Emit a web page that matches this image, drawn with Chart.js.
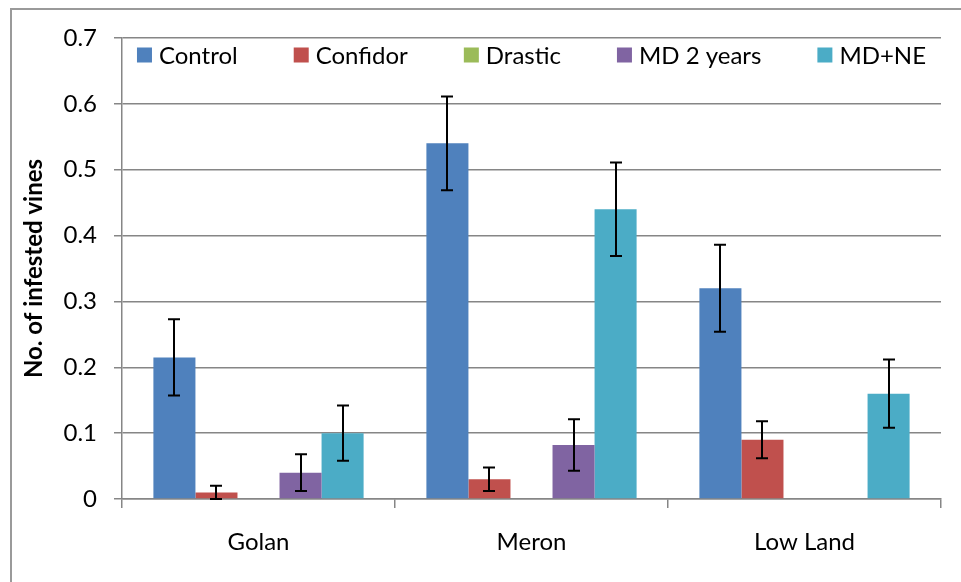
<!DOCTYPE html>
<html><head><meta charset="utf-8">
<script src="https://cdn.jsdelivr.net/npm/chart.js@4.4.0/dist/chart.umd.min.js"></script>
<style>html,body{margin:0;padding:0;background:#fff}#wrap{position:relative;width:961px;height:582px}</style>
</head><body><div id="wrap"><canvas id="c" width="961" height="582"></canvas></div>
<script>
// ---- data ----
const categories = ['Golan', 'Meron', 'Low Land'];
const seriesNames = ['Control', 'Confidor', 'Drastic', 'MD 2 years', 'MD+NE'];
const control     = [0.215, 0.54, 0.32];
const controlErr  = [0.058, 0.071, 0.066];
const confidor    = [0.01, 0.03, 0.09];
const confidorErr = [0.01, 0.018, 0.028];
const drastic     = [0, 0, 0];
const drasticErr  = [null, null, null];
const md2         = [0.04, 0.082, 0];
const md2Err      = [0.028, 0.039, null];
const mdne        = [0.1, 0.44, 0.16];
const mdneErr     = [0.042, 0.071, 0.052];
const yTicks      = [0, 0.1, 0.2, 0.3, 0.4, 0.5, 0.6, 0.7];
const yTitle      = 'No. of infested vines';

const colors = ['#4F81BD', '#C0504D', '#9BBB59', '#8064A2', '#4BACC6'];
const values = [control, confidor, drastic, md2, mdne];
const errs = [controlErr, confidorErr, drasticErr, md2Err, mdneErr];
const FONT = 'Lato';
const GRID = '#868686';

const datasets = seriesNames.map((n, i) => ({
  label: n, data: values[i], errors: errs[i],
  backgroundColor: colors[i], borderWidth: 0,
  barPercentage: 1, categoryPercentage: 0.77
}));

const frame = {
  id: 'frame',
  beforeDraw(chart) {
    const ctx = chart.ctx;
    ctx.save();
    ctx.fillStyle = '#fff';
    ctx.fillRect(0, 0, chart.width, chart.height);
    ctx.strokeStyle = '#9a9a9a';
    ctx.lineWidth = 2;
    ctx.strokeRect(11, 9, chart.width + 20, chart.height + 20);
    ctx.restore();
  }
};

const errorBars = {
  id: 'errorBars',
  afterDatasetsDraw(chart) {
    const ctx = chart.ctx, ys = chart.scales.y;
    ctx.save();
    ctx.strokeStyle = '#000';
    ctx.lineWidth = 2;
    chart.data.datasets.forEach((ds, i) => {
      const meta = chart.getDatasetMeta(i);
      meta.data.forEach((bar, j) => {
        const e = ds.errors[j];
        if (e == null) return;
        const v = ds.data[j];
        const yt = ys.getPixelForValue(v + e);
        const yb = ys.getPixelForValue(Math.max(0, v - e));
        const x = Math.round(bar.x);
        ctx.beginPath();
        ctx.moveTo(x, yt); ctx.lineTo(x, yb);
        ctx.moveTo(x - 6, yt); ctx.lineTo(x + 6, yt);
        ctx.moveTo(x - 6, yb); ctx.lineTo(x + 6, yb);
        ctx.stroke();
      });
    });
    ctx.restore();
  }
};

const legendIn = {
  id: 'legendIn',
  afterDraw(chart) {
    const ctx = chart.ctx, a = chart.chartArea;
    const box = 15, gap = 7, spacing = 56;
    ctx.save();
    ctx.font = '24px ' + FONT;
    const items = chart.data.datasets.map(d => ({ t: d.label, c: d.backgroundColor, w: ctx.measureText(d.label).width }));
    let total = items.reduce((s, it) => s + box + gap + it.w, 0) + spacing * (items.length - 1);
    let x = (a.left + a.right) / 2 - total / 2;
    const yc = a.top + 17;
    ctx.textBaseline = 'middle';
    items.forEach(it => {
      ctx.fillStyle = it.c;
      ctx.fillRect(x, yc - box / 2, box, box);
      ctx.fillStyle = '#000';
      ctx.fillText(it.t, x + box + gap, yc + 1);
      x += box + gap + it.w + spacing;
    });
    ctx.restore();
  }
};

new Chart(document.getElementById('c'), {
  type: 'bar',
  data: { labels: categories, datasets },
  options: {
    responsive: false, animation: false, devicePixelRatio: 1,
    layout: { padding: { left: 0, top: 38, right: 20, bottom: 0 } },
    plugins: { legend: { display: false }, tooltip: { enabled: false } },
    scales: {
      x: {
        offset: true,
        grid: { display: true, drawOnChartArea: false, drawTicks: true, tickLength: 9, offset: true, color: GRID, lineWidth: 1.5 },
        border: { display: true, color: GRID, width: 1.5 },
        ticks: { color: '#000', font: { family: FONT, size: 24 }, padding: 20 },
        afterFit(s) { s.height = 83; }
      },
      y: {
        min: 0, max: 0.7,
        afterBuildTicks(s) { s.ticks = yTicks.map(v => ({ value: v })); },
        grid: { color: GRID, lineWidth: 1.5, drawTicks: true, tickLength: 8 },
        border: { display: true, color: GRID, width: 1.5 },
        ticks: { color: '#000', font: { family: FONT, size: 24 }, padding: 17,
          callback: v => v === 0 ? '0' : Number(v).toFixed(1) },
        title: { display: true, text: yTitle, color: '#000', font: { family: FONT, size: 24, weight: 'bold' }, padding: { top: 20, bottom: 0 } },
        afterFit(s) { s.width = 122; }
      }
    }
  },
  plugins: [frame, errorBars, legendIn]
});
</script></body></html>
